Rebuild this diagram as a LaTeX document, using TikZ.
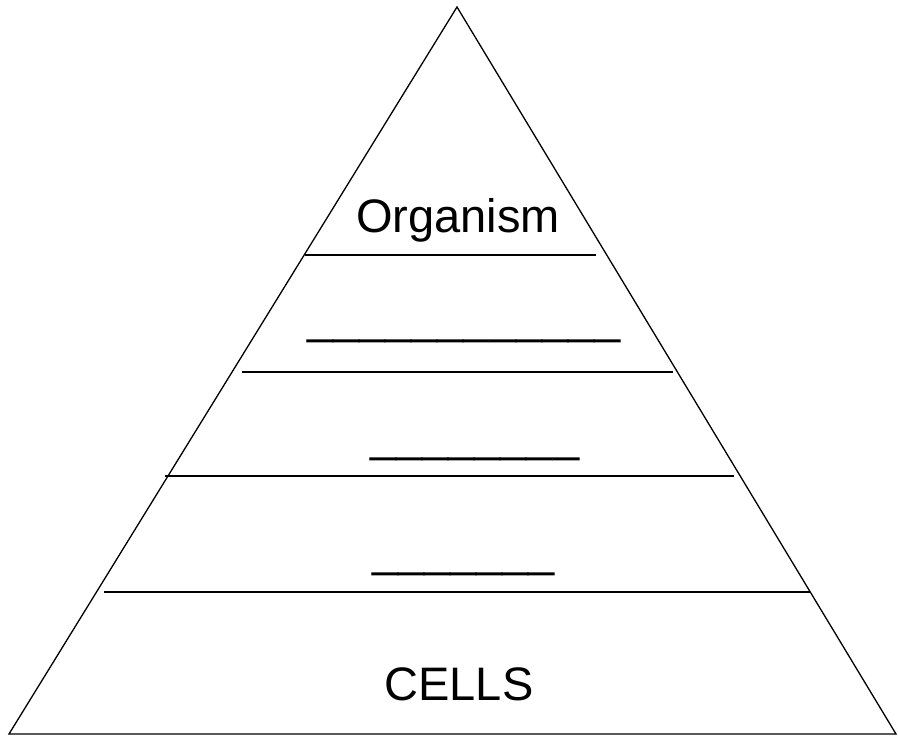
\documentclass[tikz,border=0pt]{standalone}
\usepackage{fontspec}
\setmainfont{Liberation Sans}
\usepackage{xcolor}
\usepackage{tikz}
\usetikzlibrary{calc,positioning}
\definecolor{ink}{HTML}{000000}
\tikzset{
  side/.style={line width=1.3pt, draw=ink, line join=miter},
  shelf/.style={line width=2pt, draw=ink},
  level/.style={font=\fontsize{47}{56}\selectfont, text=ink, inner sep=0pt, anchor=base},
  blank/.style={font=\fontsize{47}{56}\selectfont, text=ink, inner sep=0pt, anchor=base west}
}
\newcommand{\blanks}[1]{\foreach \k in {1,...,#1}{\_}}

\begin{document}
\begin{tikzpicture}[x=1pt,y=-1pt]
\path[use as bounding box] (0,0) rectangle (898,736);
\fill[white] (0,0) rectangle (898,736);

% pyramid outline
\coordinate (apex) at (457,7);
\coordinate (baseL) at (9,734);
\coordinate (baseR) at (896,734);
\draw[side] (apex) -- (baseR) -- (baseL) -- cycle;

% shelves between the levels
\coordinate (s1l) at (305,255); \coordinate (s1r) at (596,255);
\coordinate (s2l) at (242,372); \coordinate (s2r) at (673,372);
\coordinate (s3l) at (165,476); \coordinate (s3r) at (734,476);
\coordinate (s4l) at (104,592); \coordinate (s4r) at (810,592);
\draw[shelf] (s1l) -- (s1r);
\draw[shelf] (s2l) -- (s2r);
\draw[shelf] (s3l) -- (s3r);
\draw[shelf] (s4l) -- (s4r);

% level labels
\node[level] (organism) at (458,232) {Organism};
\node[blank] (gap1) at (307,333) {\_\_\_\_\_\_\_\_\_\_\_\_};
\node[blank] (gap2) at (370,451) {\_\_\_\_\_\_\_\_};
\node[blank] (gap3) at (372,566) {\_\_\_\_\_\_\_};
\node[level] (cells) at (459,700) {CELLS};
\end{tikzpicture}
\end{document}
